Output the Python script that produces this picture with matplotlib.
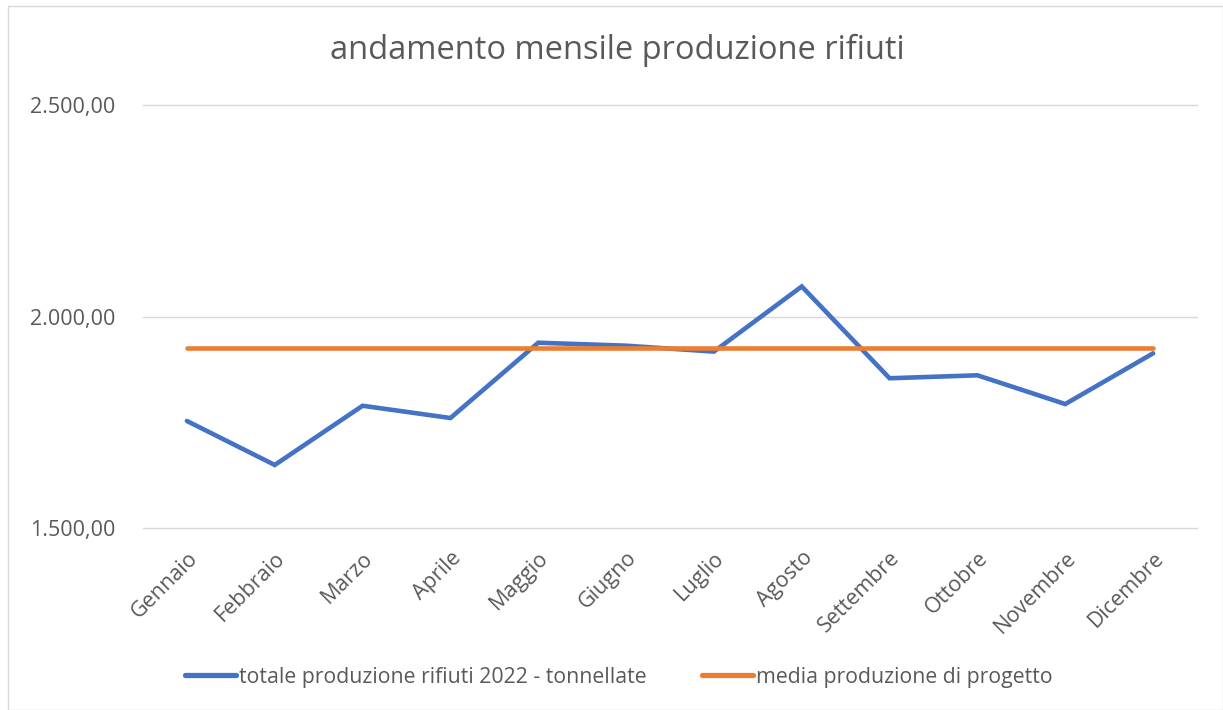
import matplotlib
matplotlib.use("Agg")
import matplotlib.pyplot as plt
from matplotlib.ticker import FuncFormatter
from matplotlib.patches import Rectangle

months = ["Gennaio", "Febbraio", "Marzo", "Aprile", "Maggio", "Giugno",
          "Luglio", "Agosto", "Settembre", "Ottobre", "Novembre", "Dicembre"]
totale = [1753, 1649, 1789, 1760, 1938, 1931, 1917, 2071, 1854, 1861, 1793, 1913]
media = [1925] * 12
yticks = [1500, 2000, 2500]

W, H = 1223, 710
fig = plt.figure(figsize=(W / 100, H / 100), dpi=100)
plt.rcParams['font.family'] = ['Open Sans', 'DejaVu Sans']
ax = fig.add_axes([143 / W, 1 - 528 / H, (1197 - 143) / W, (528 - 105) / H])

x = list(range(len(months)))
ax.plot(x, totale, color="#4472C4", lw=3.3, solid_capstyle="round",
        solid_joinstyle="miter", label="totale produzione rifiuti 2022 - tonnellate", zorder=3)
ax.plot(x, media, color="#ED7D31", lw=3.3, solid_capstyle="round",
        label="media produzione di progetto", zorder=3)

ax.set_xlim(-0.5, len(months) - 0.5)
ax.set_ylim(1500, 2500)
ax.set_yticks(yticks)
ax.yaxis.set_major_formatter(FuncFormatter(
    lambda v, p: f"{v:,.2f}".replace(",", "X").replace(".", ",").replace("X", ".")))
ax.grid(axis="y", color="#D9D9D9", lw=1.0)
for gl in ax.get_ygridlines():
    gl.set_clip_on(False)
ax.set_axisbelow(True)
for s in ax.spines.values():
    s.set_visible(False)
ax.tick_params(axis="both", length=0, colors="#595959", labelsize=15.5)
ax.tick_params(axis="y", pad=20)
ax.set_xticks(x)
ax.set_xticklabels(months, rotation=45, ha="right", rotation_mode="anchor")
ax.tick_params(axis="x", pad=14)

fig.text(617 / W, 1 - 50 / H, "andamento mensile produzione rifiuti",
         ha="center", va="center", fontsize=23.5, color="#595959")

leg = fig.legend(loc="center", bbox_to_anchor=(619 / W, 1 - 677 / H), ncol=2,
                 frameon=False, fontsize=15.3, handlelength=2.4, handletextpad=0.14,
                 columnspacing=2.6)
for t in leg.get_texts():
    t.set_color("#595959")
for h in leg.get_lines():
    h.set_linewidth(3.8)

fig.patches.append(Rectangle((8 / W, 0), (W - 8) / W - 0.0, 1 - 6 / H,
                             transform=fig.transFigure, fill=False,
                             edgecolor="#D9D9D9", lw=1.0))

fig.savefig("out.png", dpi=100, facecolor="white")
